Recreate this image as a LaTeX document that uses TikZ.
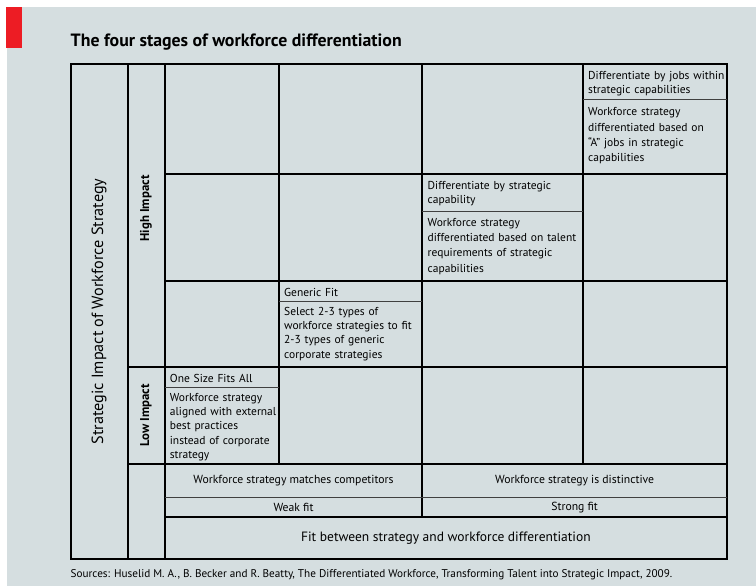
\documentclass[tikz,border=0pt]{standalone}
\usepackage{fontspec}
\setmainfont{PT Sans}
\usepackage{tikz}
\usetikzlibrary{positioning}
\definecolor{panelgrey}{RGB}{213,222,224}
\definecolor{ered}{RGB}{237,28,36}

\begin{document}
\begin{tikzpicture}[x=1pt,y=-1pt,
  major line/.style={line width=2pt,black},
  minor line/.style={line width=0.9pt,black!75},
  cell head/.style={anchor=base west,inner sep=0pt,text width=170pt,align=left,
        font=\fontsize{11.5}{13.8}\selectfont},
  cell body/.style={cell head,font=\fontsize{11.5}{15.4}\selectfont},
  tight body/.style={cell head,font=\fontsize{11.5}{14.1}\selectfont},
  impact label/.style={rotate=90,inner sep=0pt,font=\fontsize{12.8}{14}\selectfont\bfseries},
  fit label/.style={inner sep=0pt,font=\fontsize{11.7}{13}\selectfont}]
  \useasboundingbox (0,0) rectangle (756,586);
  \fill[white] (0,0) rectangle (756,586);
  \fill[panelgrey] (7,7) rectangle (756,586);
  \fill[ered] (6,7) rectangle (22,48);

  \node[anchor=base west,inner sep=0pt,font=\fontsize{17.8}{20}\selectfont\bfseries] (title)
    at (70.5,46.7) {The four stages of workforce differentiation};

  % grid
  \draw[major line] (70.5,64.3) rectangle (727,558.7);
  \draw[major line] (127.5,64.3) -- (127.5,558.7);
  \draw[major line] (164.7,64.3) -- (164.7,558.7);
  \draw[major line] (279,64.3) -- (279,464.3);
  \draw[major line] (422.3,64.3) -- (422.3,517);
  \draw[major line] (582.7,64.3) -- (582.7,464.3);
  \draw[major line] (164.7,174.3) -- (727,174.3);
  \draw[major line] (164.7,281) -- (727,281);
  \draw[major line] (127.5,367.3) -- (727,367.3);
  \draw[major line] (127.5,464.3) -- (727,464.3);
  \draw[major line] (164.7,517) -- (727,517);
  \draw[minor line] (164.7,497.7) -- (727,497.7);
  \draw[minor line] (582.7,99.3) -- (727,99.3);
  \draw[minor line] (422.3,211.7) -- (582.7,211.7);
  \draw[minor line] (279,301.7) -- (422.3,301.7);
  \draw[minor line] (164.7,387.3) -- (279,387.3);

  % stages
  \node[cell head] (jobs) at (588,79.3) {Differentiate by jobs within\\strategic capabilities};
  \node[cell body] (jobstext) at (588,115.7) {Workforce strategy\\differentiated based on\\“A” jobs in strategic\\capabilities};
  \node[cell head] (capability) at (427.5,189.3) {Differentiate by strategic\\capability};
  \node[cell body] (capabilitytext) at (427.5,226) {Workforce strategy\\differentiated based on talent\\requirements of strategic\\capabilities};
  \node[cell head] (generic) at (284,296) {Generic Fit};
  \node[tight body] (generictext) at (284,315.7) {Select 2-3 types of\\workforce strategies to fit\\2-3 types of generic\\corporate strategies};
  \node[cell head] (onesize) at (169.7,382.5) {One Size Fits All};
  \node[tight body] (onesizetext) at (169.7,401.7) {Workforce strategy\\aligned with external\\best practices\\instead of corporate\\strategy};

  % axes
  \node[rotate=90,inner sep=0pt,font=\fontsize{16.2}{18}\selectfont] (impact) at (99,311.5)
    {Strategic Impact of Workforce Strategy};
  \node[impact label] (high) at (146,208.5) {High Impact};
  \node[impact label] (low) at (146,415.5) {Low Impact};
  \node[fit label] (matches) at (293.5,481) {Workforce strategy matches competitors};
  \node[fit label] (distinctive) at (574.6,481) {Workforce strategy is distinctive};
  \node[fit label] (weak) at (293.5,507.3) {Weak fit};
  \node[fit label] (strong) at (574.6,507.3) {Strong fit};
  \node[inner sep=0pt,font=\fontsize{13.5}{15}\selectfont] (fit) at (445.9,537.8)
    {Fit between strategy and workforce differentiation};

  \node[anchor=base west,inner sep=0pt,font=\fontsize{11.2}{13}\selectfont] (source) at (70.5,577)
    {Sources: Huselid M. A., B. Becker and R. Beatty, The Differentiated Workforce, Transforming Talent into Strategic Impact, 2009.};
\end{tikzpicture}
\end{document}
